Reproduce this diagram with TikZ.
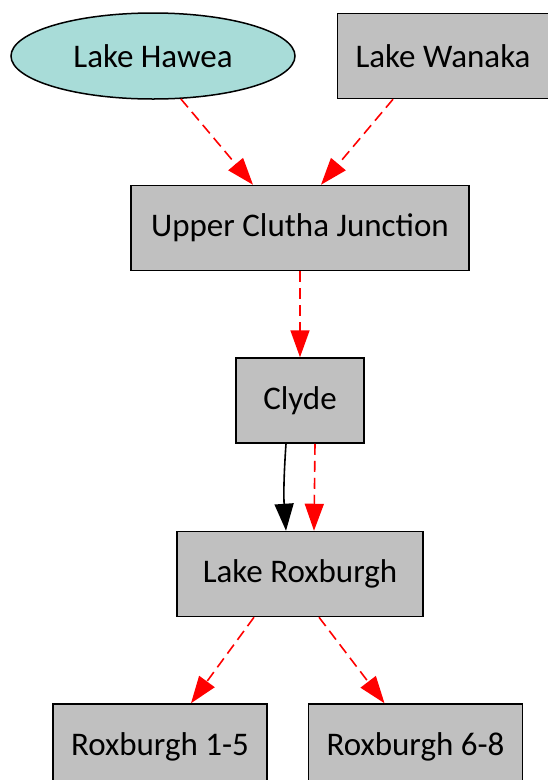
\documentclass[tikz,border=0pt]{standalone}
\usepackage{fontspec}
\setmainfont{Carlito}
\usetikzlibrary{shapes.geometric, arrows.meta}
\usetikzlibrary{positioning}

\begin{document}
\begin{tikzpicture}[x=1pt, y=1pt,
        node distance=85pt,
        every node/.style={font=\fontsize{33}{38}\selectfont, line width=1.5pt, inner sep=2pt},
        lake/.style={ellipse, draw=black, fill=lakecolor, minimum width=284pt, minimum height=86pt},
        station/.style={rectangle, draw=black, fill=boxcolor, minimum height=85pt},
        flow/.style={draw=red, line width=1.6pt, dash pattern=on 11pt off 6pt, -{Triangle[length=27pt,width=19pt]}},
        solidflow/.style={draw=black, line width=1.6pt, -{Triangle[length=27pt,width=19pt]}},]

        \definecolor{lakecolor}{RGB}{168, 220, 216}
        \definecolor{boxcolor}{RGB}{192, 192, 192}

        \useasboundingbox (0, 0) rectangle (547, -780);

        \node[station, minimum width=338pt] (ucj) at (300, -228) {Upper Clutha Junction};
        \node[lake] (hawea) [above=85pt of ucj, xshift=-147pt] {Lake Hawea};
        \node[station, minimum width=211pt] (wanaka) [right=41pt of hawea] {Lake Wanaka};
        \node[station, minimum width=128pt] (clyde) [below=86pt of ucj] {Clyde};
        \node[station, minimum width=246pt] (roxburgh) [below=87pt of clyde] {Lake Roxburgh};
        \node[station, minimum width=214pt] (rox15) [below=86pt of roxburgh, xshift=-140pt] {Roxburgh 1-5};
        \node[station, minimum width=214pt] (rox68) [right=40pt of rox15] {Roxburgh 6-8};

        \path[flow] (hawea.-57) -- ([xshift=-47pt]ucj.north);
        \path[flow] ([xshift=-50pt]wanaka.south) -- ([xshift=21pt]ucj.north);
        \path[flow] (ucj) -- (clyde);
        \path[solidflow] ([xshift=-14pt]clyde.south) to [bend right=4] ([xshift=-14pt]roxburgh.north);
        \path[flow] ([xshift=15pt]clyde.south) -- ([xshift=14pt]roxburgh.north);
        \path[flow] ([xshift=-46pt]roxburgh.south) -- ([xshift=31pt]rox15.north);
        \path[flow] ([xshift=19pt]roxburgh.south) -- ([xshift=-31pt]rox68.north);

        % \path[flow] (clyde) edge [loop right] (clyde);
    \end{tikzpicture}
\end{document}
